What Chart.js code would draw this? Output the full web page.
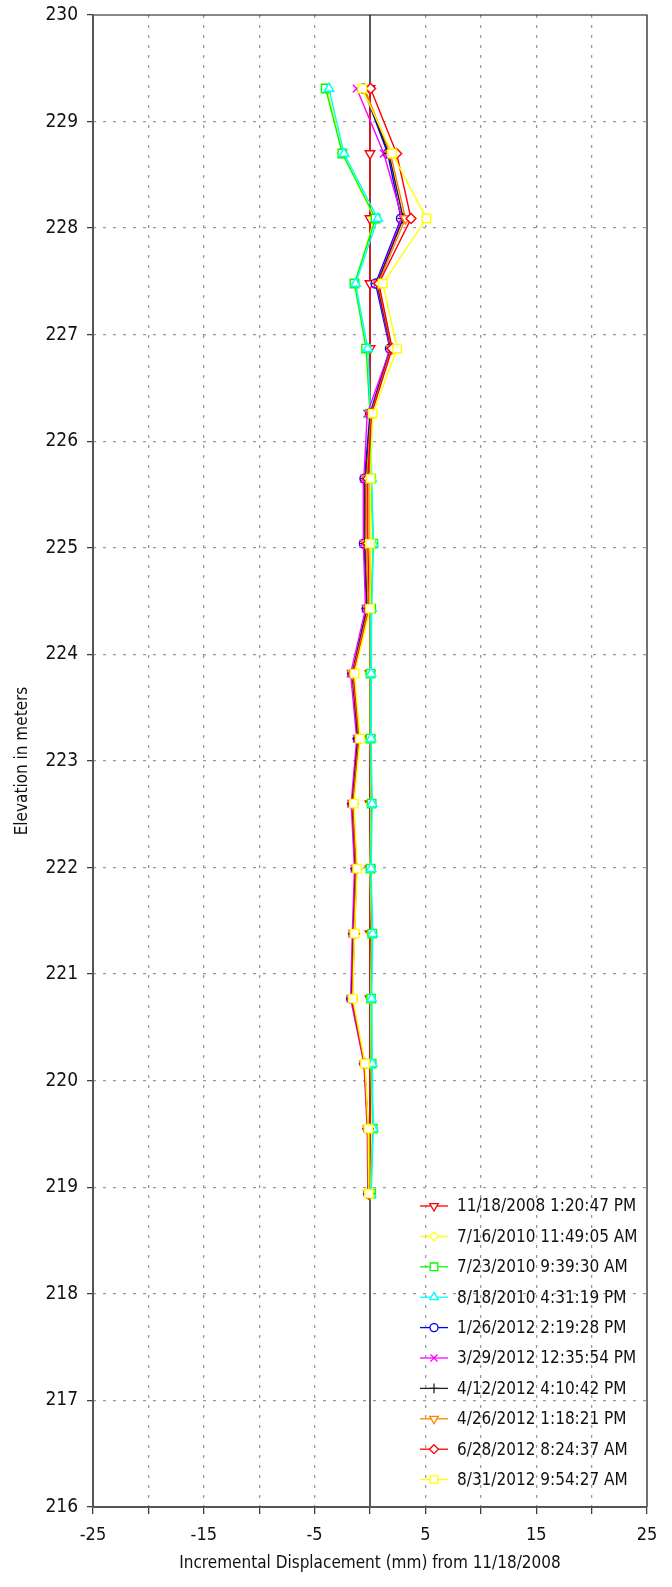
<!DOCTYPE html>
<html>
<head>
<meta charset="utf-8">
<style>
  html, body { margin: 0; padding: 0; background: #fff; }
  #wrap { width: 672px; height: 1587px; }
</style>
<script src="https://cdn.jsdelivr.net/npm/chart.js@4/dist/chart.umd.min.js"></script>
</head>
<body>
<div id="wrap"><canvas id="c" width="672" height="1587"></canvas></div>
<script>
// Inclinometer readings: elevation of each reading depth (m), top to bottom
const elevations = [229.31, 228.70, 228.09, 227.48, 226.87, 226.26, 225.65, 225.04, 224.43,
                    223.82, 223.21, 222.60, 221.99, 221.38, 220.77, 220.16, 219.55, 218.94];

// Survey labels
const surveys = [
  '11/18/2008 1:20:47 PM', '7/16/2010 11:49:05 AM', '7/23/2010 9:39:30 AM',
  '8/18/2010 4:31:19 PM', '1/26/2012 2:19:28 PM', '3/29/2012 12:35:54 PM',
  '4/12/2012 4:10:42 PM', '4/26/2012 1:18:21 PM', '6/28/2012 8:24:37 AM',
  '8/31/2012 9:54:27 AM'
];

// Incremental displacement (mm) relative to the 11/18/2008 baseline
const disp20081118 = [0, 0, 0, 0, 0, 0, 0, 0, 0, 0, 0, 0, 0, 0, 0, 0, 0, 0];
const disp20100716 = [-3.9, -2.45, 0.4, -1.35, -0.3, 0.0, 0.05, 0.25, 0.05, 0.0, 0.05, 0.1, 0.0, 0.15, 0.05, 0.1, 0.2, 0.05];
const disp20100723 = [-4.0, -2.5, 0.5, -1.4, -0.35, 0.0, 0.1, 0.3, 0.1, 0.05, 0.05, 0.15, 0.05, 0.2, 0.1, 0.15, 0.25, 0.1];
const disp20100818 = [-3.7, -2.35, 0.7, -1.3, -0.2, 0.05, 0.15, 0.3, 0.15, 0.1, 0.1, 0.2, 0.1, 0.25, 0.15, 0.2, 0.3, 0.1];
const disp20120126 = [-0.6, 1.6, 2.8, 0.5, 1.8, 0.0, -0.5, -0.55, -0.3, -1.6, -1.1, -1.6, -1.3, -1.5, -1.7, -0.5, -0.2, -0.15];
const disp20120329 = [-1.2, 1.25, 2.9, 0.6, 1.85, -0.25, -0.55, -0.6, -0.4, -1.75, -1.2, -1.7, -1.4, -1.6, -1.75, -0.55, -0.25, -0.2];
const disp20120412 = [-0.55, 1.7, 3.0, 0.65, 1.9, 0.05, -0.4, -0.45, -0.25, -1.6, -1.1, -1.6, -1.3, -1.5, -1.65, -0.5, -0.2, -0.15];
const disp20120426 = [-0.5, 1.85, 3.2, 0.75, 1.95, 0.1, -0.3, -0.35, -0.15, -1.55, -1.0, -1.55, -1.25, -1.45, -1.6, -0.5, -0.2, -0.15];
const disp20120628 = [0.05, 2.4, 3.7, 0.8, 2.0, 0.15, -0.2, -0.2, -0.05, -1.5, -0.95, -1.5, -1.2, -1.4, -1.6, -0.5, -0.15, -0.1];
const disp20120831 = [-0.7, 2.0, 5.1, 1.15, 2.45, 0.25, 0.05, 0.0, 0.0, -1.4, -0.9, -1.45, -1.15, -1.4, -1.55, -0.45, -0.15, -0.1];

// Axis ticks
const xTicks = [-25, -20, -15, -10, -5, 0, 5, 10, 15, 20, 25];
const xTickLabels = ['-25', '', '-15', '', '-5', '', '5', '', '15', '', '25'];
const yMin = 216, yMax = 230;

const seriesValues = [disp20081118, disp20100716, disp20100723, disp20100818, disp20120126,
                      disp20120329, disp20120412, disp20120426, disp20120628, disp20120831];
const colors = ['#ff0000', '#ffff00', '#00ff00', '#00ffff', '#0000ff',
                '#ff00ff', '#222222', '#ff8000', '#ff0000', '#ffff00'];
const markers = [
  { style: 'triangle', rot: 180, r: 5.5 },
  { style: 'rectRot', rot: 0, r: 5 },
  { style: 'rect', rot: 0, r: 6 },
  { style: 'triangle', rot: 0, r: 5.5 },
  { style: 'circle', rot: 0, r: 4.5 },
  { style: 'crossRot', rot: 0, r: 5.5 },
  { style: 'cross', rot: 0, r: 5.5 },
  { style: 'triangle', rot: 180, r: 5.5 },
  { style: 'rectRot', rot: 0, r: 5 },
  { style: 'rect', rot: 0, r: 6 }
];

const FONT = "'Liberation Sans Narrow', 'Arial Narrow', 'DejaVu Sans Condensed', 'Liberation Sans', sans-serif";

const datasets = surveys.map((label, i) => ({
  label,
  data: seriesValues[i].map((v, k) => ({ x: v, y: elevations[k] })),
  showLine: true,
  borderColor: colors[i],
  borderWidth: 1.4,
  pointStyle: markers[i].style,
  pointRotation: markers[i].rot,
  pointRadius: markers[i].r,
  pointBorderWidth: 1.4,
  pointBorderColor: colors[i],
  pointBackgroundColor: '#ffffff',
  order: surveys.length - i,
  fill: false,
  tension: 0
}));

// Frame around the plot, solid zero line, and the in-plot legend
const framePlugin = {
  id: 'frame',
  beforeDatasetsDraw(chart) {
    const { ctx, chartArea: a, scales } = chart;
    ctx.save();
    const x0 = scales.x.getPixelForValue(0);
    ctx.strokeStyle = '#000';
    ctx.lineWidth = 1.3;
    ctx.beginPath();
    ctx.moveTo(x0, a.top);
    ctx.lineTo(x0, a.bottom);
    ctx.stroke();
    ctx.restore();
  },
  afterDatasetsDraw(chart) {
    const { ctx, chartArea: a } = chart;
    ctx.save();
    ctx.strokeStyle = '#111';
    ctx.lineWidth = 1.2;
    ctx.beginPath();
    ctx.moveTo(a.left, a.top);
    ctx.lineTo(a.right, a.top);
    ctx.lineTo(a.right, a.bottom);
    ctx.stroke();
    ctx.strokeStyle = '#555';
    ctx.lineWidth = 2;
    ctx.beginPath();
    ctx.moveTo(a.left, a.top);
    ctx.lineTo(a.left, a.bottom);
    ctx.lineTo(a.right, a.bottom);
    ctx.stroke();

    // Legend
    const lx0 = 420, lx1 = 448, tx = 457, y0 = 1206, dy = 30.4;
    ctx.font = '17px ' + FONT;
    ctx.textBaseline = 'middle';
    ctx.textAlign = 'left';
    chart.data.datasets.forEach((ds, i) => {
      const y = y0 + i * dy;
      ctx.strokeStyle = ds.borderColor;
      ctx.lineWidth = 1.3;
      ctx.beginPath();
      ctx.moveTo(lx0, y);
      ctx.lineTo(lx1, y);
      ctx.stroke();
      ctx.fillStyle = '#fff';
      ctx.lineWidth = 1.3;
      Chart.helpers.drawPoint(ctx, {
        pointStyle: ds.pointStyle, rotation: ds.pointRotation,
        radius: ds.pointRadius * 0.9, borderWidth: 1.3
      }, (lx0 + lx1) / 2, y);
      ctx.fillStyle = '#111';
      ctx.fillText(ds.label, tx, y + 1);
    });
    ctx.restore();
  }
};

const isEdgeX = v => v === -25 || v === 25;
const isEdgeY = v => v === yMin || v === yMax;

new Chart(document.getElementById('c'), {
  type: 'scatter',
  data: { datasets },
  options: {
    responsive: false,
    animation: false,
    devicePixelRatio: 1,
    layout: { padding: { top: 15, right: 25, bottom: 0, left: 0 } },
    plugins: { legend: { display: false }, tooltip: { enabled: false } },
    scales: {
      x: {
        type: 'linear',
        min: -25, max: 25,
        afterBuildTicks: s => { s.ticks = xTicks.map(v => ({ value: v })); },
        afterFit: s => { s.height = 80; s.paddingLeft = 0; s.paddingRight = 0; },
        ticks: {
          autoSkip: false, maxRotation: 0, padding: 11,
          color: '#111', font: { family: FONT, size: 18 },
          callback: (v) => xTickLabels[xTicks.indexOf(v)] ?? ''
        },
        grid: {
          color: c => (c.tick && (c.tick.value === 0 || isEdgeX(c.tick.value))) ? 'rgba(0,0,0,0)' : '#999999',
          lineWidth: 1.3,
          drawTicks: true, tickLength: 7, tickColor: '#333', tickWidth: 1.2, tickBorderDash: []
        },
        border: { display: false, dash: [3, 7] },
        title: {
          display: true, text: 'Incremental Displacement (mm) from 11/18/2008',
          color: '#111', font: { family: FONT, size: 17 }, padding: { top: 0, bottom: 13 }
        }
      },
      y: {
        type: 'linear',
        min: yMin, max: yMax,
        afterBuildTicks: s => {
          const t = [];
          for (let v = yMin; v <= yMax; v++) t.push({ value: v });
          s.ticks = t;
        },
        afterFit: s => { s.width = 93; s.paddingTop = 0; s.paddingBottom = 0; },
        ticks: {
          autoSkip: false, padding: 9,
          color: '#111', font: { family: FONT, size: 19 }
        },
        grid: {
          color: c => (c.tick && isEdgeY(c.tick.value)) ? 'rgba(0,0,0,0)' : '#999999',
          lineWidth: 1.3,
          drawTicks: true, tickLength: 6, tickColor: '#333', tickWidth: 1.2, tickBorderDash: []
        },
        border: { display: false, dash: [3, 7] },
        title: {
          display: true, text: 'Elevation in meters',
          color: '#111', font: { family: FONT, size: 17 }, padding: { top: 12, bottom: 0 }
        }
      }
    }
  },
  plugins: [framePlugin]
});
</script>
</body>
</html>
